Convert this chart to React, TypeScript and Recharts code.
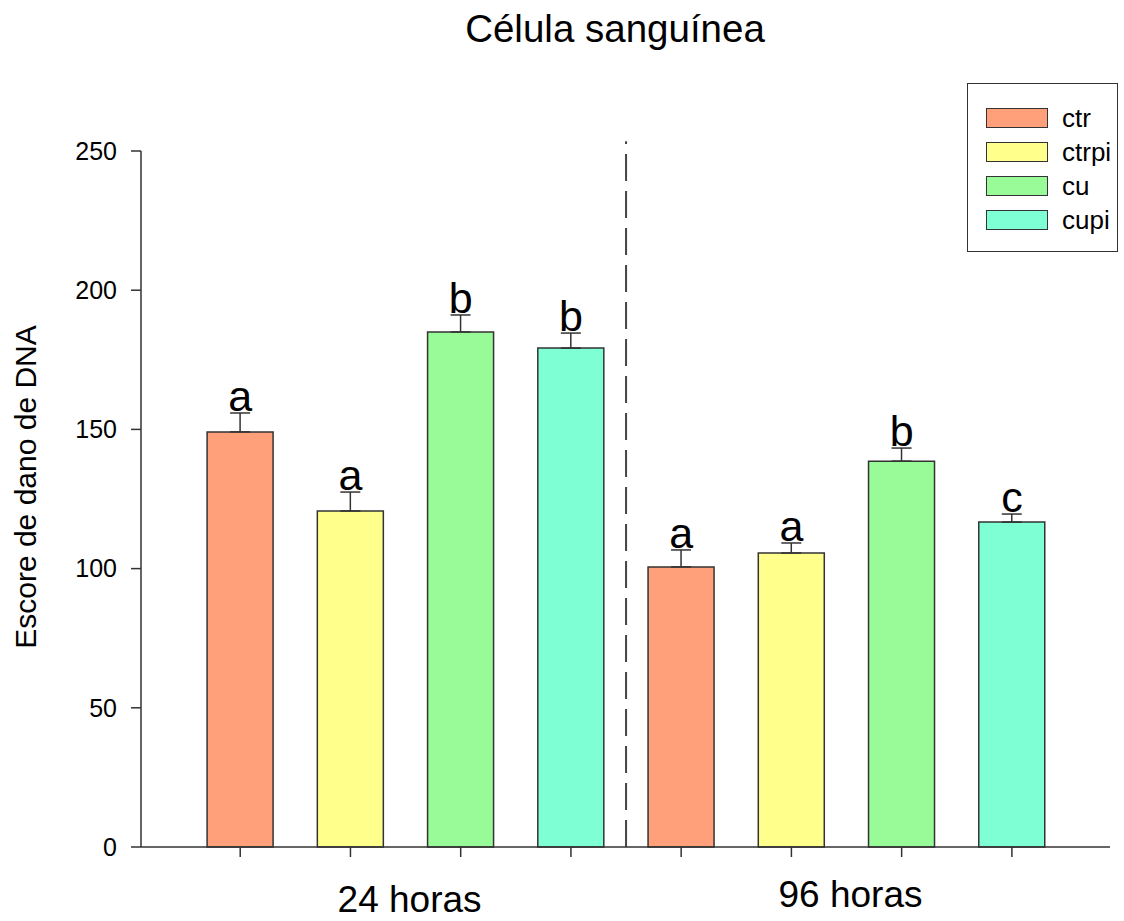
import React from "react";
import {
  ComposedChart,
  Bar,
  Cell,
  ErrorBar,
  Line,
  LabelList,
  XAxis,
  YAxis,
  ReferenceLine,
} from "recharts";

const title = "Célula sanguínea";
const yLabel = "Escore de dano de DNA";
const groupLabels = ["24 horas", "96 horas"];
const seriesNames = ["ctr", "ctrpi", "cu", "cupi"];
const seriesColors = ["#FFA07A", "#FFFF8C", "#98FB98", "#7FFFD4"];

const means24 = [149.1, 120.7, 185.0, 179.2];
const errs24 = [6.8, 6.8, 6.1, 5.4];
const letters24 = ["a", "a", "b", "b"];

const means96 = [100.6, 105.6, 138.6, 116.7];
const errs96 = [6.1, 3.6, 4.7, 2.9];
const letters96 = ["a", "a", "b", "c"];

const yTicks = [0, 50, 100, 150, 200, 250];
const barTicks = [1, 2, 3, 4, 5, 6, 7, 8];
const groupTicks = [2.5, 6.5];
const dividerX = 4.5;

const FONT = "'Liberation Sans', Arial, sans-serif";
const INK = "#333";

const means = [means24, means96];
const errs = [errs24, errs96];
const letters = [letters24, letters96];

const rows = means.flatMap((g, gi) =>
  g.map((v, si) => ({
    x: gi * seriesNames.length + si + 1,
    value: v,
    err: [0, errs[gi][si]],
    top: v + errs[gi][si],
    letter: letters[gi][si],
    color: seriesColors[si],
  }))
);

const LetterLabel = (props: any) => {
  const { x, y, value } = props;
  return (
    <text x={x} y={y - 2} textAnchor="middle" fontSize={43} fontFamily={FONT} fill="#000">
      {value}
    </text>
  );
};

const GroupTick = (props: any) => {
  const { x, y, index } = props;
  const dy = index === 0 ? 47 : 42;
  return (
    <text x={x + 4} y={y + dy} textAnchor="middle" fontSize={37} fontFamily={FONT} fill="#000">
      {groupLabels[index]}
    </text>
  );
};

const EmptyTick = () => <g />;

const LegendBox = () => (
  <div
    style={{
      position: "absolute",
      left: 967,
      top: 83,
      width: 149,
      height: 167,
      border: `1.5px solid ${INK}`,
      background: "#fff",
      fontFamily: FONT,
    }}
  >
    {seriesNames.map((n, i) => (
      <div key={n} style={{ position: "absolute", left: 18, top: 24 + i * 34, height: 20, display: "flex", alignItems: "center" }}>
        <div style={{ width: 60, height: 18, background: seriesColors[i], border: `1.5px solid ${INK}` }} />
        <span style={{ marginLeft: 14, fontSize: 26, lineHeight: "20px", color: "#000" }}>{n}</span>
      </div>
    ))}
  </div>
);

export default function App() {
  return (
    <div style={{ position: "absolute", left: 0, top: 0, width: 1124, height: 921, background: "#fff", fontFamily: FONT }}>
      <div
        style={{
          position: "absolute",
          left: 415,
          top: 10,
          width: 400,
          textAlign: "center",
          fontSize: 38.5,
          lineHeight: "38px",
          color: "#000",
        }}
      >
        {title}
      </div>
      <div
        style={{
          position: "absolute",
          left: 26 - 200,
          top: 487 - 15,
          width: 400,
          height: 30,
          lineHeight: "30px",
          fontSize: 30,
          textAlign: "center",
          transform: "rotate(-90deg)",
          color: "#000",
          whiteSpace: "nowrap",
        }}
      >
        {yLabel}
      </div>
      <ComposedChart
        width={1124}
        height={921}
        data={rows}
        margin={{ top: 151, right: 14, bottom: 0, left: 61 }}
      >
        <XAxis
          xAxisId="b_groups"
          dataKey="x"
          type="number"
          domain={[0.1, 8.89]}
          ticks={groupTicks}
          allowDataOverflow
          height={64}
          axisLine={false}
          tickLine={false}
          tick={<GroupTick />}
        />
        <XAxis
          xAxisId="a_bars"
          dataKey="x"
          type="number"
          domain={[0.1, 8.89]}
          ticks={barTicks}
          tick={<EmptyTick />}
          tickSize={10}
          height={10}
          allowDataOverflow
          axisLine={{ stroke: INK, strokeWidth: 1.5 }}
          tickLine={{ stroke: INK, strokeWidth: 1.5 }}
        />
        <YAxis
          type="number"
          domain={[0, 250]}
          ticks={yTicks}
          width={80}
          tickSize={10}
          tickMargin={14}
          axisLine={{ stroke: INK, strokeWidth: 1.5 }}
          tickLine={{ stroke: INK, strokeWidth: 1.5 }}
          tick={{ fontSize: 25, fill: "#000", fontFamily: FONT }}
        />
        <ReferenceLine
          xAxisId="a_bars"
          segment={[
            { x: dividerX, y: 0 },
            { x: dividerX, y: 253.5 },
          ]}
          ifOverflow="visible"
          stroke="#444"
          strokeWidth={2}
          strokeDasharray="27 10"
        />
        <Bar xAxisId="a_bars" dataKey="value" barSize={66} stroke={INK} strokeWidth={1.5} isAnimationActive={false}>
          {rows.map((r) => (
            <Cell key={r.x} fill={r.color} />
          ))}
          <ErrorBar dataKey="err" direction="y" width={10} stroke={INK} strokeWidth={1.5} />
        </Bar>
        <Line
          xAxisId="a_bars"
          dataKey="top"
          stroke="none"
          dot={false}
          activeDot={false}
          legendType="none"
          isAnimationActive={false}
        >
          <LabelList dataKey="letter" content={<LetterLabel />} />
        </Line>
      </ComposedChart>
      <LegendBox />
    </div>
  );
}
